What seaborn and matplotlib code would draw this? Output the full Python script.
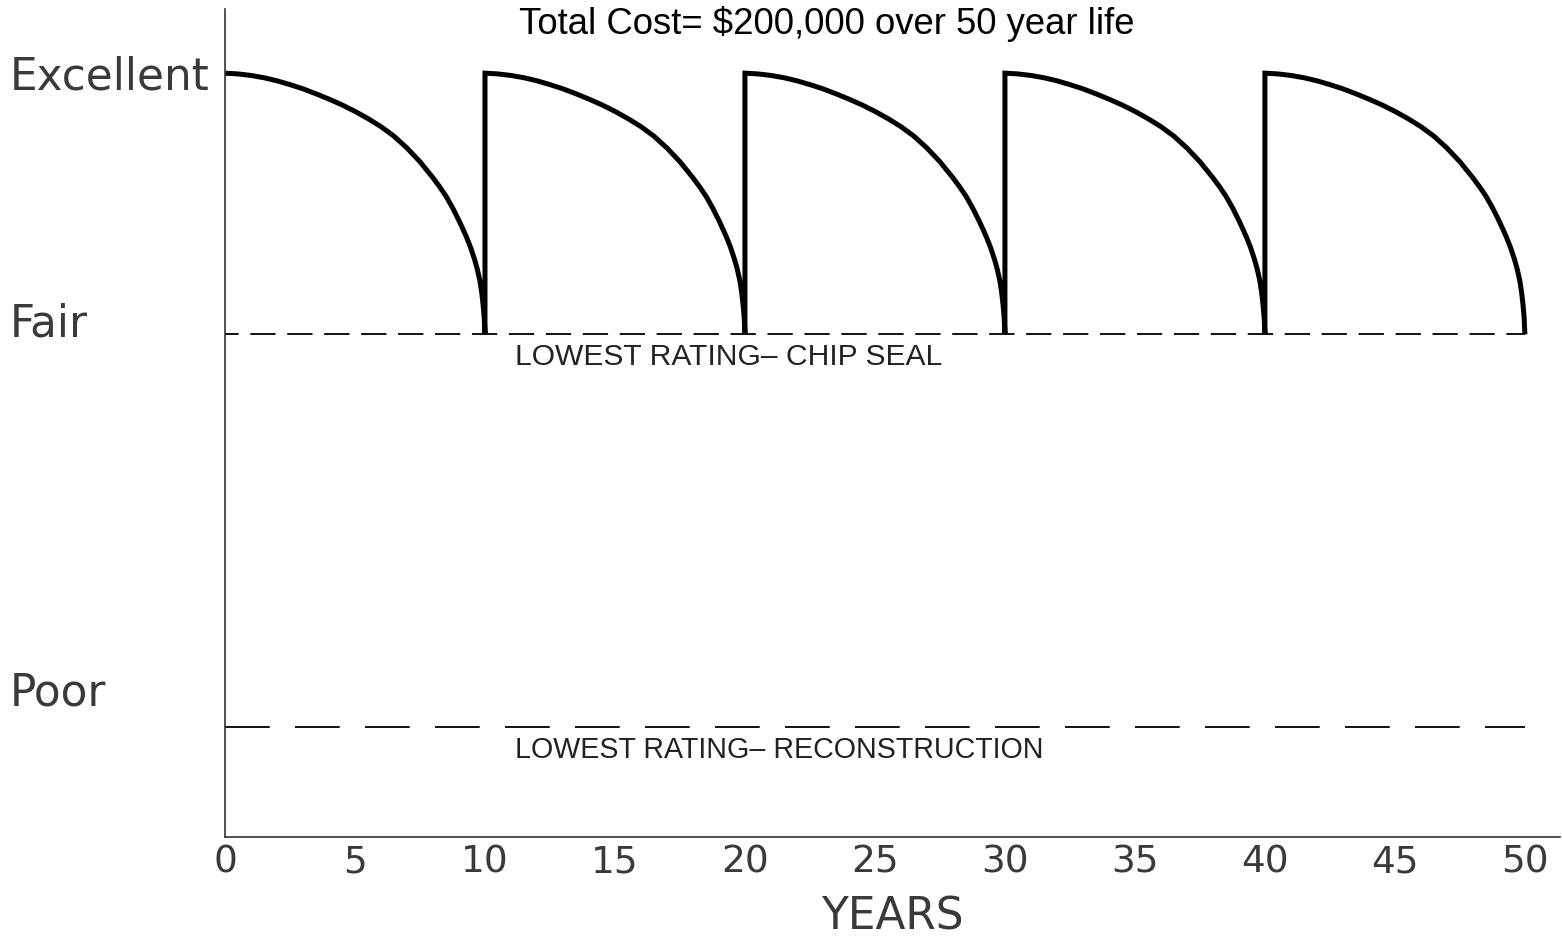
import matplotlib
matplotlib.use("Agg")
import matplotlib.pyplot as plt
import matplotlib.transforms as mtransforms
import pandas as pd
import seaborn as sns

# Rating scale used for the vertical axis: 0 = bottom of chart, 100 = "Excellent"
EXCELLENT = 100.0
FAIR = 65.8
POOR = 14.4

# One chip-seal cycle: years since treatment -> rating
CYCLE_AGE = [0, 0.5, 1, 1.5, 2, 2.5, 3, 3.5, 4, 4.5, 5, 5.5, 6, 6.5, 7, 7.5,
             8, 8.25, 8.5, 8.75, 9, 9.15, 9.3, 9.45, 9.6, 9.7, 9.8, 9.87,
             9.93, 9.97, 10]
CYCLE_RATING = [100.0, 99.9, 99.7, 99.4, 99.0, 98.5, 97.95, 97.3, 96.6, 95.85,
                95.0, 94.05, 93.0, 91.75, 90.2, 88.4, 86.3, 85.15, 83.9, 82.4,
                80.7, 79.6, 78.45, 77.15, 75.6, 74.4, 72.9, 71.4, 69.6, 68.0,
                65.8]
SEAL_YEARS = [0, 10, 20, 30, 40]

X_TICKS = list(range(0, 55, 5))
LIFE_END = 50
TITLE = "Total Cost= $200,000 over 50 year life"
CHIP_SEAL_NOTE = "LOWEST RATING\u2013 CHIP SEAL"
RECON_NOTE = "LOWEST RATING\u2013 RECONSTRUCTION"

sns.set_style("white")
plt.rcParams["font.family"] = ["DejaVu Sans"]

# --- build the saw-tooth condition curve -----------------------------------
rows = []
for start in SEAL_YEARS:
    for age, rating in zip(CYCLE_AGE, CYCLE_RATING):
        rows.append({"year": start + age, "rating": rating})
curve = pd.DataFrame(rows)

fig = plt.figure(figsize=(15.62, 9.37), dpi=100)
ax = fig.add_axes([225 / 1562, 99 / 937, 1335 / 1562, 828 / 937])

sns.lineplot(data=curve, x="year", y="rating", sort=False, estimator=None,
             color="black", linewidth=3.6, ax=ax)
for line in ax.get_lines():
    line.set_solid_joinstyle("miter")
    line.set_solid_capstyle("butt")

# lowest-rating reference lines
ax.plot([0, LIFE_END], [FAIR, FAIR], color="#111111", linewidth=1.4,
        linestyle=(6, (13, 6)))
ax.plot([0, LIFE_END], [POOR, POOR], color="#111111", linewidth=1.4,
        linestyle=(0, (23, 13)))

ax.set_xlim(0, 51.35)
ax.set_ylim(0, 108.4)
ax.set_xticks(X_TICKS)
ax.set_xticklabels([str(t) for t in X_TICKS])
ax.set_yticks([])
ax.tick_params(axis="x", length=0, pad=4.5, labelsize=27, labelcolor="#3a3a3a")
ax.set_xlabel("YEARS", fontsize=31.5, color="#3a3a3a", labelpad=11)
ax.set_ylabel("")

for side in ["top", "right"]:
    ax.spines[side].set_visible(False)
for side in ["left", "bottom"]:
    ax.spines[side].set_color("#333333")
    ax.spines[side].set_linewidth(1.2)

# condition labels to the left of the axis
trans = mtransforms.blended_transform_factory(fig.transFigure, ax.transData)
for label, yval in [("Excellent", EXCELLENT - 2.0), ("Fair", FAIR - 0.1),
                    ("Poor", POOR + 2.9)]:
    ax.text(10 / 1562, yval, label, transform=trans, fontsize=31.5,
            color="#3a3a3a", va="baseline", ha="left", clip_on=False)

note_font = ["Liberation Sans", "DejaVu Sans"]
ax.text(11.15, FAIR - 3.9, CHIP_SEAL_NOTE, fontsize=21.6, color="#222222",
        family=note_font, va="baseline", ha="left")
ax.text(11.15, POOR - 3.9, RECON_NOTE, fontsize=20.6, color="#222222",
        family=note_font, va="baseline", ha="left")

fig.text(826.5 / 1562, (937 - 34) / 937, TITLE, fontsize=26.3, color="black",
         family=note_font, ha="center", va="baseline")

fig.savefig("out.png", dpi=100, facecolor="white")
plt.close(fig)
